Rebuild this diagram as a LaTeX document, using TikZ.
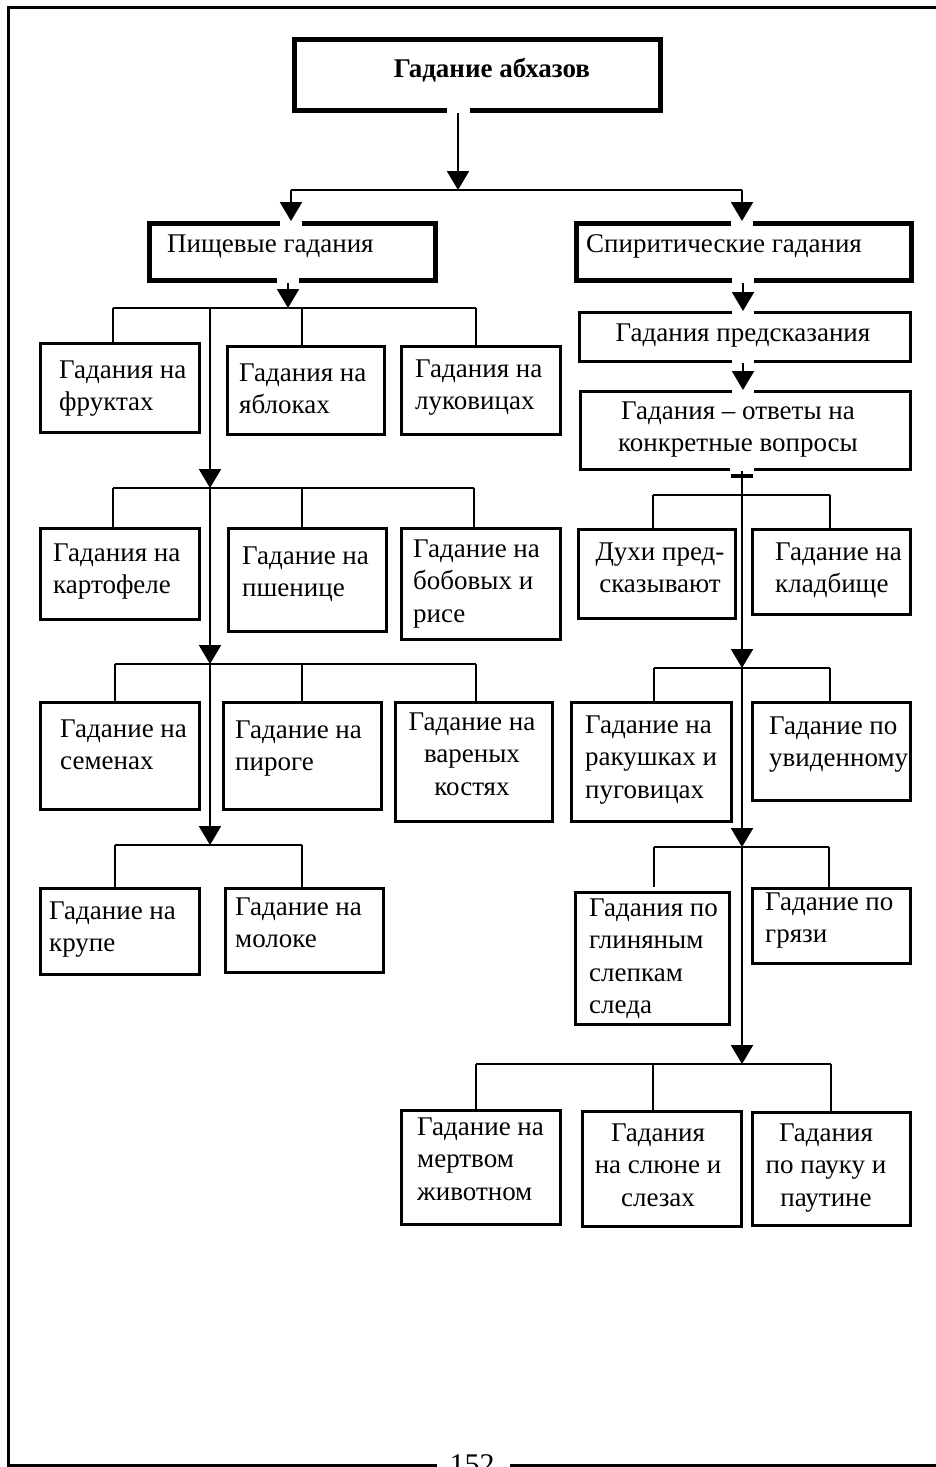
\documentclass[tikz,border=0pt]{standalone}
\usepackage{fontspec}
\setmainfont{Liberation Serif}
\usetikzlibrary{arrows.meta}
\newcommand\mkbox[6]{\node[#6, anchor=north west, minimum width={#4-#2}, minimum height={#5-#3}] (#1) at (#2,#3) {};}
\begin{document}
\begin{tikzpicture}[x=1pt,y=-1pt,
  ln/.style={line width=2.2pt},
  arr/.style={line width=2.2pt,-{Triangle[width=22pt,length=19pt]}},
  bx/.style={draw,line width=3pt,inner sep=0pt},
  bxb/.style={draw,line width=5pt,inner sep=0pt},
  gapw/.style={fill=white},
  txt/.style={font=\fontsize{27}{32.5}\selectfont,inner sep=0pt,align=left,anchor=base west},
  ctxt/.style={font=\fontsize{27}{32.5}\selectfont,inner sep=0pt,align=center,anchor=base}]
\useasboundingbox (0,0) rectangle (936,1467);
% page frame
\draw[line width=3pt] (437,1465) -- (8,1465) -- (8,7) -- (936,7);
\draw[line width=3pt] (510,1465) -- (936,1465);
\node[font=\fontsize{30}{34}\selectfont, anchor=base, inner sep=0pt] (pg) at (472,1474) {152};

% boxes
\mkbox{title}{292}{37}{658}{108}{bxb}
\mkbox{food}{147}{221}{433}{278}{bxb}
\mkbox{spirit}{574}{221}{909}{278}{bxb}
\mkbox{fr}{39}{342}{198}{431}{bx}
\mkbox{ap}{226}{345}{383}{433}{bx}
\mkbox{lu}{400}{345}{559}{433}{bx}
\mkbox{ka}{39}{527}{198}{618}{bx}
\mkbox{ps}{227}{527}{385}{630}{bx}
\mkbox{bo}{400}{527}{559}{638}{bx}
\mkbox{se}{39}{701}{198}{808}{bx}
\mkbox{pi}{222}{701}{380}{808}{bx}
\mkbox{va}{394}{701}{551}{820}{bx}
\mkbox{kr}{39}{887}{198}{973}{bx}
\mkbox{mo}{224}{887}{382}{971}{bx}
\mkbox{pr}{578}{311}{909}{360}{bx}
\mkbox{ot}{579}{390}{909}{468}{bx}
\mkbox{du}{577}{528}{734}{617}{bx}
\mkbox{kl}{751}{528}{909}{613}{bx}
\mkbox{ra}{570}{701}{730}{820}{bx}
\mkbox{uv}{751}{701}{909}{799}{bx}
\mkbox{gl}{574}{891}{728}{1023}{bx}
\mkbox{gr}{751}{887}{909}{962}{bx}
\mkbox{me}{400}{1109}{559}{1223}{bx}
\mkbox{sl}{581}{1110}{740}{1225}{bx}
\mkbox{pa}{751}{1111}{909}{1224}{bx}

% texts (base anchor = baseline of the last line)
\node[font=\bfseries\fontsize{27}{32}\selectfont, anchor=base, inner sep=0pt] (title-t) at (492,77) {Гадание абхазов};
\node[txt] (food-t) at (167,252) {Пищевые гадания};
\node[txt] (spirit-t) at (586,252) {Спиритические гадания};
\node[txt] (fr-t) at (59,410.5) {Гадания на\\фруктах};
\node[txt] (ap-t) at (239,413.5) {Гадания на\\яблоках};
\node[txt] (lu-t) at (415,409.5) {Гадания на\\луковицах};
\node[txt] (ka-t) at (53,593.5) {Гадания на\\картофеле};
\node[txt] (ps-t) at (242,596.5) {Гадание на\\пшенице};
\node[txt] (bo-t) at (413,622) {Гадание на\\бобовых и\\рисе};
\node[txt] (se-t) at (60,769.5) {Гадание на\\семенах};
\node[txt] (pi-t) at (235,770.5) {Гадание на\\пироге};
\node[ctxt] (va-t) at (472,795) {Гадание на\\вареных\\костях};
\node[txt] (kr-t) at (49,951.5) {Гадание на\\крупе};
\node[txt] (mo-t) at (235,947.5) {Гадание на\\молоке};
\node[ctxt] (pr-t) at (743,341) {Гадания предсказания};
\node[ctxt] (ot-t) at (738,451.5) {Гадания – ответы на\\конкретные вопросы};
\node[ctxt] (du-t) at (660,592.5) {Духи пред-\\сказывают};
\node[txt] (kl-t) at (775,592.5) {Гадание на\\кладбище};
\node[txt] (ra-t) at (585,798) {Гадание на\\ракушках и\\пуговицах};
\node[txt] (uv-t) at (769,766.5) {Гадание по\\увиденному};
\node[txt] (gl-t) at (589,1013.5) {Гадания по\\глиняным\\слепкам\\следа};
\node[txt] (gr-t) at (765,942.5) {Гадание по\\грязи};
\node[txt] (me-t) at (417,1200) {Гадание на\\мертвом\\животном};
\node[ctxt] (sl-t) at (658,1206) {Гадания\\на слюне и\\слезах};
\node[ctxt] (pa-t) at (826,1206) {Гадания\\по пауку и\\паутине};

% junction coordinates
\coordinate (j0) at (458,190);
\coordinate (j0l) at (291,190);
\coordinate (j0r) at (742,190);
\coordinate (fa) at (288,308);
\coordinate (h1l) at (113,308);
\coordinate (h1m) at (302,308);
\coordinate (h1r) at (476,308);
\coordinate (v1) at (210,308);
\coordinate (v2) at (210,488);
\coordinate (h2l) at (113,488);
\coordinate (h2m) at (302,488);
\coordinate (h2r) at (474,488);
\coordinate (v3) at (210,664);
\coordinate (h3l) at (115,664);
\coordinate (h3m) at (302,664);
\coordinate (h3r) at (476,664);
\coordinate (v4) at (210,845);
\coordinate (h4l) at (115,845);
\coordinate (h4r) at (302,845);
\coordinate (sp) at (743,278);
\coordinate (r0) at (742,468);
\coordinate (r1) at (742,495);
\coordinate (r1l) at (653,495);
\coordinate (r1r) at (830,495);
\coordinate (r2) at (742,668);
\coordinate (r2l) at (654,668);
\coordinate (r2r) at (830,668);
\coordinate (r3) at (742,847);
\coordinate (r3l) at (654,847);
\coordinate (r3r) at (829,847);
\coordinate (r3le) at (654,887);
\coordinate (r4) at (742,1064);
\coordinate (r4l) at (476,1064);
\coordinate (r4m) at (653,1064);
\coordinate (r4r) at (831,1064);

% white gaps where arrow images cut box borders
\fill[gapw] (447,102) rectangle (470,114);
\fill[gapw] (280,214) rectangle (302,226);
\fill[gapw] (731,214) rectangle (753,226);
\fill[gapw] (277,272) rectangle (299,284);
\fill[gapw] (732,272) rectangle (754,284);
\fill[gapw] (732,306) rectangle (754,316);
\fill[gapw] (732,355) rectangle (754,365);
\fill[gapw] (732,385) rectangle (754,395);
\fill[gapw] (730,462) rectangle (754,472);

% connectors top
\draw[arr] (title.south -| j0) -- (j0);
\draw[ln] (j0l) -- (j0r);
\draw[arr] (j0l) -- (j0l |- food.north);
\draw[arr] (j0r) -- (j0r |- spirit.north);

% left tree
\draw[arr] (food.south -| fa) -- (fa);
\draw[ln] (h1l) -- (h1r);
\draw[ln] (h1l) -- (h1l |- fr.north);
\draw[ln] (h1m) -- (h1m |- ap.north);
\draw[ln] (h1r) -- (h1r |- lu.north);
\draw[arr] (v1) -- (v2);
\draw[ln] (h2l) -- (h2r);
\draw[ln] (h2l) -- (h2l |- ka.north);
\draw[ln] (h2m) -- (h2m |- ps.north);
\draw[ln] (h2r) -- (h2r |- bo.north);
\draw[arr] (v2) -- (v3);
\draw[ln] (h3l) -- (h3r);
\draw[ln] (h3l) -- (h3l |- se.north);
\draw[ln] (h3m) -- (h3m |- pi.north);
\draw[ln] (h3r) -- (h3r |- va.north);
\draw[arr] (v3) -- (v4);
\draw[ln] (h4l) -- (h4r);
\draw[ln] (h4l) -- (h4l |- kr.north);
\draw[ln] (h4r) -- (h4r |- mo.north);

% right tree
\draw[arr] (spirit.south -| sp) -- (sp |- pr.north);
\draw[arr] (pr.south -| sp) -- (sp |- ot.north);
\draw[ln] (ot.south -| r0) -- (r1);
\fill (731,474) rectangle (753,478);
\draw[ln] (r1l) -- (r1r);
\draw[ln] (r1l) -- (r1l |- du.north);
\draw[ln] (r1r) -- (r1r |- kl.north);
\draw[arr] (r1) -- (r2);
\draw[ln] (r2l) -- (r2r);
\draw[ln] (r2l) -- (r2l |- ra.north);
\draw[ln] (r2r) -- (r2r |- uv.north);
\draw[arr] (r2) -- (r3);
\draw[ln] (r3l) -- (r3r);
\draw[ln] (r3l) -- (r3le);
\draw[ln] (r3r) -- (r3r |- gr.north);
\draw[arr] (r3) -- (r4);
\draw[ln] (r4l) -- (r4r);
\draw[ln] (r4l) -- (r4l |- me.north);
\draw[ln] (r4m) -- (r4m |- sl.north);
\draw[ln] (r4r) -- (r4r |- pa.north);
\end{tikzpicture}
\end{document}
